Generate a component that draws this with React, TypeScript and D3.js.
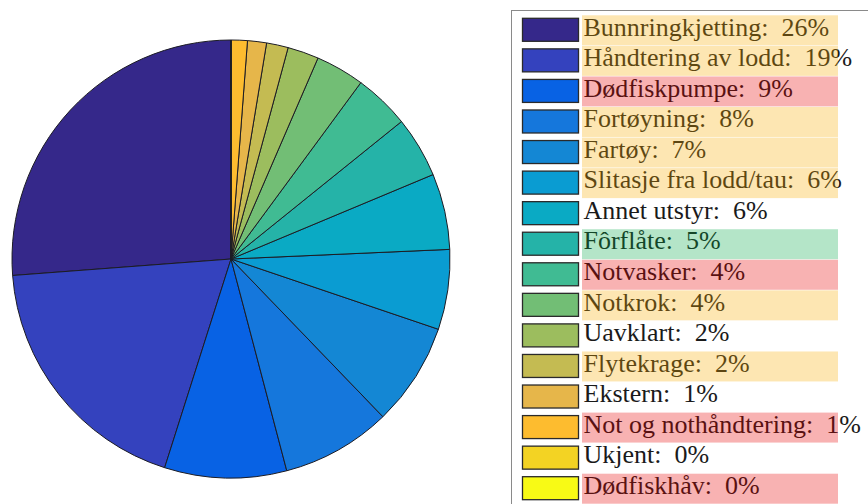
import React, { useEffect, useRef } from "react";
import * as d3 from "d3";

const categories = [
  "Bunnringkjetting", "Håndtering av lodd", "Dødfiskpumpe", "Fortøyning", "Fartøy",
  "Slitasje fra lodd/tau", "Annet utstyr", "Fôrflåte", "Notvasker", "Notkrok",
  "Uavklart", "Flytekrage", "Ekstern", "Not og nothåndtering", "Ukjent", "Dødfiskhåv",
];
const values = [26.2, 18.9, 9.0, 8.1, 7.6, 5.9, 5.6, 4.5, 4.1, 3.6, 2.3, 1.6, 1.4, 1.2, 0, 0];
const percentLabels = ["26%", "19%", "9%", "8%", "7%", "6%", "6%", "5%", "4%", "4%", "2%", "2%", "1%", "1%", "0%", "0%"];
const colors = [
  "#35288A", "#3442BE", "#0862E4", "#1577DC", "#1487D4", "#0A9CD2", "#0AAAC4", "#25B3A8",
  "#40BB93", "#72BE75", "#9CBD5E", "#C4BB52", "#E6B64A", "#FDBC2F", "#F3D323", "#F8FA15",
];
// highlight marker per legend row: y = yellow, r = red, g = green, "" = none
const highlights = ["y", "y", "r", "y", "y", "y", "", "g", "r", "y", "", "y", "", "r", "", "r"];
const highlightColors: Record<string, string> = { y: "#F8AC00", r: "#E80000", g: "#05A848" };

export default function App() {
  const ref = useRef<SVGSVGElement>(null);
  useEffect(() => {
    const svg = d3.select(ref.current);
    svg.selectAll("*").remove();
    const W = 868, H = 504;
    svg.append("rect").attr("width", W).attr("height", H).attr("fill", "#fff");

    const cx = 231, cy = 259, R = 219;
    const pie = d3.pie<number>().sort(null).startAngle(0).endAngle(-2 * Math.PI);
    const arcs = pie(values);
    const arc = d3.arc<d3.PieArcDatum<number>>().innerRadius(0).outerRadius(R);
    const g = svg.append("g").attr("transform", `translate(${cx},${cy})`);
    g.selectAll("path").data(arcs).enter().append("path")
      .attr("d", arc as any)
      .attr("fill", (_d, i) => colors[i])
      .attr("stroke", "#1c1c24").attr("stroke-width", 1).attr("stroke-linejoin", "round");

    // legend
    const lg = svg.append("g");
    lg.append("rect").attr("x", 511.5).attr("y", 10.5).attr("width", 400).attr("height", 520)
      .attr("fill", "#fff").attr("stroke", "#8a8a8a").attr("stroke-width", 1);
    const rowY = d3.scaleLinear().domain([0, 15]).range([18.3, 476.7]);
    categories.forEach((c, i) => {
      const y = rowY(i);
      lg.append("rect").attr("x", 522.5).attr("y", y).attr("width", 56).attr("height", 23)
        .attr("fill", colors[i]).attr("stroke", "#2a2a2a").attr("stroke-width", 1.3);
      lg.append("text").attr("x", 583.5).attr("y", y + 17.2)
        .style("font-family", "Liberation Serif")
        .style("font-size", "26px").attr("fill", "#1a1a1a")
        .style("white-space", "pre")
        .text(`${c}:  ${percentLabels[i]}`);
      if (highlights[i]) {
        lg.append("rect").attr("x", 582).attr("y", y - 3).attr("width", 256).attr("height", 30)
          .attr("fill", highlightColors[highlights[i]]).attr("fill-opacity", 0.3);
      }
    });
  }, []);
  return (
    <svg ref={ref} width={868} height={504}
      style={{ position: "absolute", left: 0, top: 0, display: "block" }} />
  );
}
